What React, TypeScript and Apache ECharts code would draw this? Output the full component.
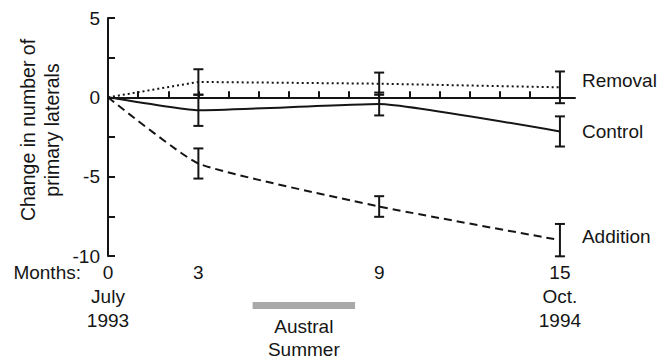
import React, { useEffect, useRef } from 'react';
import * as echarts from 'echarts';

// ---- data ----
const months = [0, 3, 9, 15];
const removal = [0, 0.97, 0.86, 0.63];
const removalErr = [0, 0.8, 0.7, 1.0];
const control = [0, -0.82, -0.42, -2.15];
const controlErr = [0, 0.98, 0.72, 0.95];
const addition = [0, -4.17, -6.88, -9.0];
const additionErr = [0, 0.95, 0.65, 1.02];
const yLabelValues = [5, 0, -5, -10];
const monthTickValues = [1, 2, 3, 4, 5, 6, 7, 8, 9, 10, 11, 12, 13, 14, 15];
const monthLabelValues = [0, 3, 9, 15];
const dateLabels: Record<number, string> = { 0: 'July\n1993', 15: 'Oct.\n1994' };
const summerRange = [4.8, 8.2];
const summerLabel = 'Austral\nSummer';
const yAxisTitle = 'Change in number of\nprimary laterals';
const monthsTitle = 'Months:';

const FONT = "'Liberation Sans', Arial, Helvetica, sans-serif";
const INK = '#151515';

function errData(vals: number[], errs: number[]) {
  const out: number[][] = [];
  for (let i = 0; i < months.length; i++) {
    if (errs[i] > 0) out.push([months[i], vals[i] - errs[i], vals[i] + errs[i]]);
  }
  return out;
}

const errorBarRender = (params: any, api: any) => {
  const x = api.value(0);
  const lo = api.coord([x, api.value(1)]);
  const hi = api.coord([x, api.value(2)]);
  const w = 5;
  const style = { stroke: INK, lineWidth: 2 };
  return {
    type: 'group',
    children: [
      { type: 'line', shape: { x1: lo[0], y1: lo[1], x2: hi[0], y2: hi[1] }, style },
      { type: 'line', shape: { x1: lo[0] - w, y1: lo[1], x2: lo[0] + w, y2: lo[1] }, style },
      { type: 'line', shape: { x1: hi[0] - w, y1: hi[1], x2: hi[0] + w, y2: hi[1] }, style },
    ],
  };
};

export default function App() {
  const ref = useRef<HTMLDivElement>(null);
  useEffect(() => {
    if (!ref.current) return;
    const chart = echarts.init(ref.current, null, { renderer: 'svg' });
    const lineSeries = (name: string, data: number[], type: any, smooth: any, offset: number[]) => ({
      type: 'line',
      name,
      data: months.map((m, i) => [m, data[i]]),
      showSymbol: false,
      symbol: 'none',
      smooth,
      xAxisIndex: 0,
      yAxisIndex: 0,
      lineStyle: { color: INK, width: 2, type },
      endLabel: {
        show: true,
        formatter: '{a}',
        distance: 22,
        offset,
        fontSize: 19,
        fontFamily: FONT,
        color: INK,
      },
      z: 3,
    });
    const errSeries = (data: number[][]) => ({
      type: 'custom',
      xAxisIndex: 0,
      yAxisIndex: 0,
      data,
      encode: { x: 0, y: [1, 2] },
      renderItem: errorBarRender,
      clip: false,
      z: 4,
    });
    chart.setOption({
      animation: false,
      grid: { left: 108, right: 91, top: 18, bottom: 105, outerBoundsMode: 'none' },
      xAxis: [
        {
          type: 'value',
          min: 0,
          max: 15.5,
          position: 'bottom',
          axisLine: { show: true, onZero: true, lineStyle: { color: INK, width: 2 } },
          axisTick: {
            show: true,
            inside: true,
            length: 6,
            customValues: monthTickValues,
            lineStyle: { color: INK, width: 2 },
          },
          axisLabel: { show: false },
          splitLine: { show: false },
          z: 2,
        },
        {
          type: 'value',
          min: 0,
          max: 15.5,
          position: 'bottom',
          axisLine: { show: false, onZero: false },
          axisTick: { show: false },
          splitLine: { show: false },
          axisLabel: {
            show: true,
            customValues: monthLabelValues,
            margin: 4,
            fontSize: 19,
            lineHeight: 24,
            fontFamily: FONT,
            color: INK,
            formatter: (v: number) => (dateLabels[v] ? `${v}\n${dateLabels[v]}` : `${v}`),
          },
        },
      ],
      yAxis: {
        type: 'value',
        min: -10,
        max: 5,
        interval: 2.5,
        axisLine: { show: true, onZero: false, lineStyle: { color: INK, width: 2 } },
        axisTick: { show: true, inside: true, length: 7, lineStyle: { color: INK, width: 2 } },
        splitLine: { show: false },
        axisLabel: {
          fontSize: 19,
          fontFamily: FONT,
          color: INK,
          margin: 8,
          formatter: (v: number) => (yLabelValues.includes(v) ? `${v}` : ''),
        },
      },
      graphic: [
        {
          type: 'text',
          x: 40,
          y: 130,
          rotation: Math.PI / 2,
          style: {
            text: yAxisTitle,
            fontSize: 19.5,
            lineHeight: 24,
            fontFamily: FONT,
            fill: INK,
            align: 'center',
            verticalAlign: 'middle',
          },
        },
        {
          type: 'text',
          x: 81,
          y: 272,
          style: {
            text: monthsTitle,
            fontSize: 19,
            fontFamily: FONT,
            fill: INK,
            align: 'right',
            verticalAlign: 'middle',
          },
        },
      ],
      series: [
        lineSeries('Removal', removal, [2, 3], false, [0, -7]),
        lineSeries('Control', control, 'solid', 0.12, [0, 0]),
        lineSeries('Addition', addition, [8, 5], 0.15, [0, -4]),
        errSeries(errData(removal, removalErr)),
        errSeries(errData(control, controlErr)),
        errSeries(errData(addition, additionErr)),
        {
          type: 'custom',
          xAxisIndex: 0,
          yAxisIndex: 0,
          data: [summerRange],
          encode: { x: [0, 1] },
          clip: false,
          renderItem: (params: any, api: any) => {
            const a = api.coord([api.value(0), -10]);
            const b = api.coord([api.value(1), -10]);
            return {
              type: 'group',
              children: [
                {
                  type: 'rect',
                  shape: { x: a[0], y: a[1] + 46, width: b[0] - a[0], height: 7 },
                  style: { fill: '#a9a9a9' },
                },
                {
                  type: 'text',
                  x: (a[0] + b[0]) / 2,
                  y: a[1] + 59,
                  style: {
                    text: summerLabel,
                    fontSize: 19,
                    lineHeight: 23,
                    fontFamily: FONT,
                    fill: INK,
                    align: 'center',
                    verticalAlign: 'top',
                  },
                },
              ],
            };
          },
        },
      ],
    });
    return () => chart.dispose();
  }, []);
  return (
    <div
      ref={ref}
      style={{ position: 'absolute', left: 0, top: 0, width: 666, height: 361, background: '#fff' }}
    />
  );
}
